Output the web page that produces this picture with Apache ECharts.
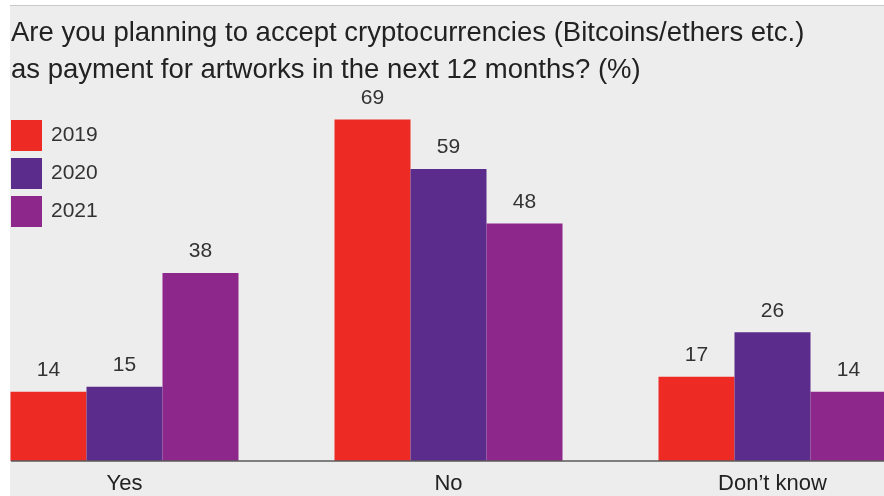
<!DOCTYPE html>
<html>
<head>
<meta charset="utf-8">
<script src="https://cdn.jsdelivr.net/npm/echarts@6/dist/echarts.min.js"></script>
<style>
  html, body { margin: 0; padding: 0; background: #ffffff; }
  #chart { width: 884px; height: 496px; }
</style>
</head>
<body>
<div id="chart"></div>
<script>
// Survey answers, share of respondents (%)
const categories = ['Yes', 'No', 'Don\u2019t know'];
const years = ['2019', '2020', '2021'];
const values2019 = [14, 69, 17];
const values2020 = [15, 59, 26];
const values2021 = [38, 48, 14];
const colors = ['#ee2a24', '#5b2c8c', '#8e278b'];

const FONT = '"Liberation Sans", Arial, Helvetica, sans-serif';

const chart = echarts.init(document.getElementById('chart'), null, { renderer: 'canvas' });

function makeSeries(name, data, color) {
  return {
    name: name,
    type: 'bar',
    data: data,
    barWidth: 76,
    barGap: '0%',
    clip: false,
    itemStyle: { color: color },
    label: {
      show: true,
      position: 'top',
      distance: 11,
      color: '#333333',
      fontFamily: FONT,
      fontSize: 21
    },
    emphasis: { disabled: true }
  };
}

chart.setOption({
  animation: false,
  backgroundColor: '#ffffff',
  graphic: [
    // grey panel behind the chart, with a thin rule along its top
    { type: 'rect', z: -10, shape: { x: 10, y: 5, width: 874, height: 491 }, style: { fill: '#ededed' } },
    { type: 'line', z: -9, shape: { x1: 10, y1: 5.5, x2: 884, y2: 5.5 }, style: { stroke: '#c9c9c9', lineWidth: 1 } },
    // category baseline
    { type: 'line', z: 10, shape: { x1: 11, y1: 461, x2: 884, y2: 461 }, style: { stroke: '#5a5a5a', lineWidth: 1.5 } }
  ],
  title: {
    text: 'Are you planning to accept cryptocurrencies (Bitcoins/ethers etc.)\nas payment for artworks in the next 12 months? (%)',
    left: 6,
    top: 10,
    textStyle: {
      fontFamily: FONT,
      fontSize: 27.5,
      fontWeight: 'normal',
      color: '#222222',
      lineHeight: 37
    }
  },
  legend: {
    orient: 'vertical',
    left: 11,
    top: 120,
    itemWidth: 31,
    itemHeight: 31,
    itemGap: 7,
    icon: 'rect',
    padding: 0,
    data: years,
    textStyle: { fontFamily: FONT, fontSize: 21, color: '#333333', padding: [0, 0, 0, 4] },
    selectedMode: false
  },
  // categories sit on the grid edges; each group is 324px apart
  grid: { left: 124.5, right: 111.5, top: 65, bottom: 35, containLabel: false },
  xAxis: {
    type: 'category',
    data: categories,
    boundaryGap: false,
    axisLine: { show: false },
    axisTick: { show: false },
    axisLabel: { fontFamily: FONT, fontSize: 22, color: '#222222', margin: 12 }
  },
  yAxis: {
    type: 'value',
    min: 0,
    max: 80,
    show: false,
    splitLine: { show: false }
  },
  series: [
    makeSeries(years[0], values2019, colors[0]),
    makeSeries(years[1], values2020, colors[1]),
    makeSeries(years[2], values2021, colors[2])
  ]
});
</script>
</body>
</html>
